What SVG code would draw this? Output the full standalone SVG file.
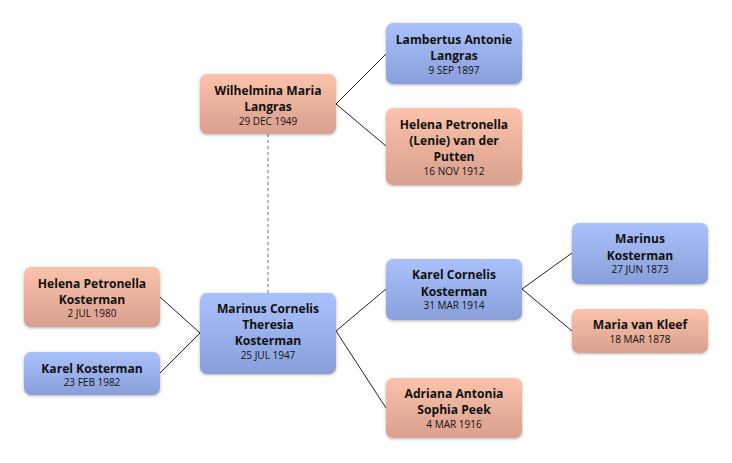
<svg xmlns="http://www.w3.org/2000/svg" width="732" height="463" viewBox="0 0 732 463">
<defs>
<linearGradient id="gf" x1="0" y1="0" x2="0" y2="1">
<stop offset="0" stop-color="#fbc3ab"/>
<stop offset="1" stop-color="#d8a08d"/>
</linearGradient>
<linearGradient id="gm" x1="0" y1="0" x2="0" y2="1">
<stop offset="0" stop-color="#a9c1fb"/>
<stop offset="1" stop-color="#8a9fd9"/>
</linearGradient>
<filter id="sh" x="-10%" y="-15%" width="120%" height="135%">
<feDropShadow dx="0" dy="1" stdDeviation="1.6" flood-color="#000" flood-opacity="0.3"/>
</filter>
</defs>
<style>
.f{fill:url(#gf);filter:url(#sh)}
.m{fill:url(#gm);filter:url(#sh)}
.n{font-family:"Open Sans","DejaVu Sans",sans-serif;font-weight:bold;font-size:12.1px;fill:#111;text-anchor:middle}
.d{font-family:"Open Sans","DejaVu Sans",sans-serif;font-size:10px;fill:#111;text-anchor:middle}
.c{stroke:#222;stroke-width:1;fill:none}
.dash{stroke:#888;stroke-width:1.2;stroke-dasharray:3 3;fill:none}
</style>
<rect width="732" height="463" fill="#fff"/>
<g id="connectors">
<line class="dash" x1="268" y1="134" x2="268" y2="293"/>
<polyline class="c" points="386,54 336,104 386,146"/>
<polyline class="c" points="160,297 200,333 160,373"/>
<polyline class="c" points="386,289 336,331 386,408"/>
<polyline class="c" points="572,253 522,289 572,331"/>
</g>
<g id="wilhelmina">
<rect class="f" x="200" y="74" width="136" height="60" rx="7"/>
<text class="n" x="268" y="95">Wilhelmina Maria</text>
<text class="n" x="268" y="111">Langras</text>
<text class="d" x="268" y="124.5">29 DEC 1949</text>
</g>
<g id="lambertus">
<rect class="m" x="386" y="23" width="136" height="61" rx="7"/>
<text class="n" x="454" y="44">Lambertus Antonie</text>
<text class="n" x="454" y="60">Langras</text>
<text class="d" x="454" y="73.5">9 SEP 1897</text>
</g>
<g id="helena-lenie">
<rect class="f" x="386" y="108" width="136" height="77" rx="7"/>
<text class="n" x="454" y="129">Helena Petronella</text>
<text class="n" x="454" y="145">(Lenie) van der</text>
<text class="n" x="454" y="161">Putten</text>
<text class="d" x="454" y="174.5">16 NOV 1912</text>
</g>
<g id="helena-kosterman">
<rect class="f" x="24" y="267" width="136" height="60" rx="7"/>
<text class="n" x="92" y="288">Helena Petronella</text>
<text class="n" x="92" y="303.5">Kosterman</text>
<text class="d" x="92" y="317">2 JUL 1980</text>
</g>
<g id="karel-kosterman">
<rect class="m" x="24" y="352" width="136" height="43" rx="7"/>
<text class="n" x="92" y="372.5">Karel Kosterman</text>
<text class="d" x="92" y="386">23 FEB 1982</text>
</g>
<g id="marinus-cornelis">
<rect class="m" x="200" y="293" width="136" height="81" rx="7"/>
<text class="n" x="268" y="313">Marinus Cornelis</text>
<text class="n" x="268" y="329">Theresia</text>
<text class="n" x="268" y="345">Kosterman</text>
<text class="d" x="268" y="358.5">25 JUL 1947</text>
</g>
<g id="karel-cornelis">
<rect class="m" x="386" y="259" width="136" height="61" rx="7"/>
<text class="n" x="454" y="279">Karel Cornelis</text>
<text class="n" x="454" y="295.5">Kosterman</text>
<text class="d" x="454" y="309">31 MAR 1914</text>
</g>
<g id="adriana">
<rect class="f" x="386" y="378" width="136" height="60" rx="7"/>
<text class="n" x="454" y="398">Adriana Antonia</text>
<text class="n" x="454" y="414">Sophia Peek</text>
<text class="d" x="454" y="427.5">4 MAR 1916</text>
</g>
<g id="marinus-kosterman">
<rect class="m" x="572" y="223" width="136" height="61" rx="7"/>
<text class="n" x="640" y="243">Marinus</text>
<text class="n" x="640" y="259.5">Kosterman</text>
<text class="d" x="640" y="273">27 JUN 1873</text>
</g>
<g id="maria-van-kleef">
<rect class="f" x="572" y="309" width="136" height="44" rx="7"/>
<text class="n" x="640" y="329">Maria van Kleef</text>
<text class="d" x="640" y="342.5">18 MAR 1878</text>
</g>
</svg>
